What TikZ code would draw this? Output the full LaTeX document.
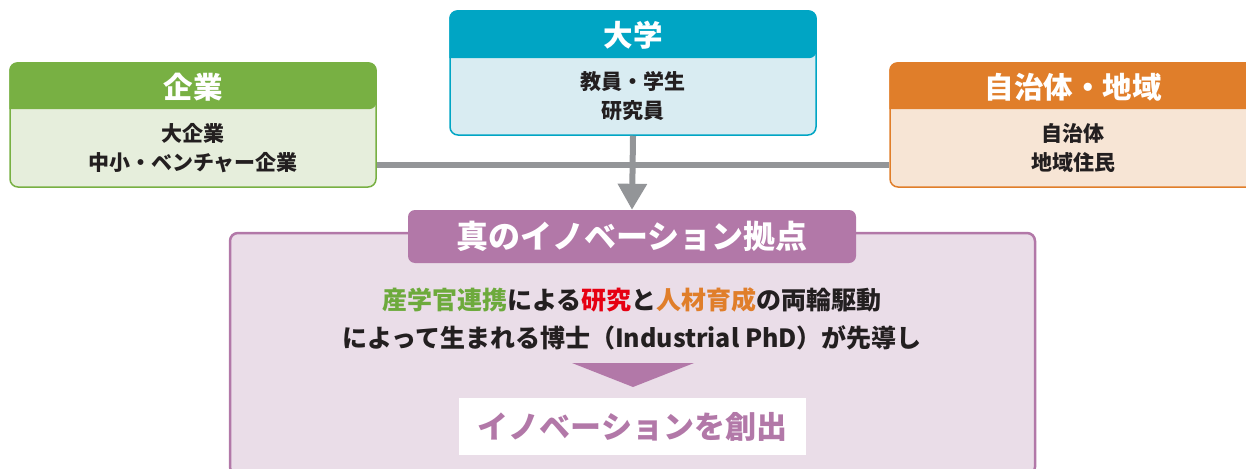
\documentclass[tikz,border=0pt]{standalone}
\usepackage{fontspec}
\setmainfont{Noto Sans CJK JP}
\usetikzlibrary{arrows.meta}
\definecolor{kgreen}{HTML}{78B043}
\definecolor{kgreenl}{HTML}{E6EEDC}
\definecolor{dblue}{HTML}{00A5C4}
\definecolor{dbluel}{HTML}{D9ECF2}
\definecolor{corange}{HTML}{E07E2A}
\definecolor{corangel}{HTML}{F7E5D5}
\definecolor{ipurple}{HTML}{B278A8}
\definecolor{ipurplel}{HTML}{EADDE8}
\definecolor{lgray}{HTML}{939598}
\definecolor{dtext}{HTML}{231F20}
\definecolor{tred}{HTML}{E60012}
\definecolor{tgreen}{HTML}{6DAA3C}
\tikzset{
  group/.style={draw=#1, line width=1.5pt, rounded corners=8pt, minimum width=366pt, minimum height=124pt, inner sep=0pt},
  head/.style={font=\fontsize{29.5}{32}\selectfont\bfseries, text=white},
  body/.style={font=\fontsize{21}{29}\selectfont\bfseries, text=dtext, align=center},
  link/.style={draw=lgray, line width=6pt}
}
\begin{document}
\begin{tikzpicture}[x=1pt, y=-1pt]
		\useasboundingbox (0,0) rectangle (1246,468);
		\clip (0,0) rectangle (1246,468);

		% groups
		\node[group=kgreen, fill=kgreenl] (kigyo) at (193, 125) {};
		\node[group=dblue, fill=dbluel] (daigaku) at (633, 73) {};
		\node[group=corange, fill=corangel] (chiiki) at (1073, 125) {};
		\fill[kgreen, rounded corners=8pt] ([yshift=-47pt]kigyo.north west) |- (kigyo.north) -| ([yshift=-47pt]kigyo.north east) [sharp corners] -- cycle;
		\fill[dblue, rounded corners=8pt] ([yshift=-48pt]daigaku.north west) |- (daigaku.north) -| ([yshift=-48pt]daigaku.north east) [sharp corners] -- cycle;
		\fill[corange, rounded corners=8pt] ([yshift=-47pt]chiiki.north west) |- (chiiki.north) -| ([yshift=-47pt]chiiki.north east) [sharp corners] -- cycle;

		\node[head] (kigyoH) at (193, 87) {企業};
		\node[head] (daigakuH) at (633, 35) {大学};
		\node[head] (chiikiH) at (1073, 87) {自治体・地域};
		\node[body] (kigyoB) at (193, 148) {大企業\\中小・ベンチャー企業};
		\node[body] (daigakuB) at (633, 96) {教員・学生\\研究員};
		\node[body] (chiikiB) at (1073, 148) {自治体\\地域住民};

		% base
		\node[draw=ipurple, line width=2.5pt, fill=ipurplel, rounded corners=8pt, minimum width=805pt, minimum height=242pt] (kyoten) at (632.5, 354) {};
		\node[fill=ipurple, rounded corners=7pt, minimum width=448pt, minimum height=53pt, inner sep=0pt, font=\fontsize{32}{34}\selectfont\bfseries, text=white] (kyotenH) at (632, 236.5) {真のイノベーション拠点};
		\node[font=\fontsize{25}{38}\selectfont\bfseries, text=dtext, align=center] (kyotenB) at (632, 319) {\textcolor{tgreen}{産学官連携}による\textcolor{tred}{研究}と\textcolor{corange}{人材育成}の両輪駆動\\によって生まれる博士（Industrial PhD）が先導し};
		\coordinate (triL) at (572, 363);
		\coordinate (triR) at (694, 363);
		\coordinate (triB) at (633, 387);
		\fill[ipurple] (triL) -- (triR) -- (triB) -- cycle;
		\node[fill=white, minimum width=347pt, minimum height=57pt, font=\fontsize{31}{34}\selectfont\bfseries, text=ipurple] (sozo) at (632.5, 426.5) {イノベーションを創出};

		% links
		\path[link] ([yshift=-40pt]kigyo.east) -- ([yshift=-40pt]chiiki.west);
		\draw[link, -{Triangle[width=28pt, length=26pt]}] (daigaku.south) -- (kyotenH.north);
	\end{tikzpicture}
\end{document}
